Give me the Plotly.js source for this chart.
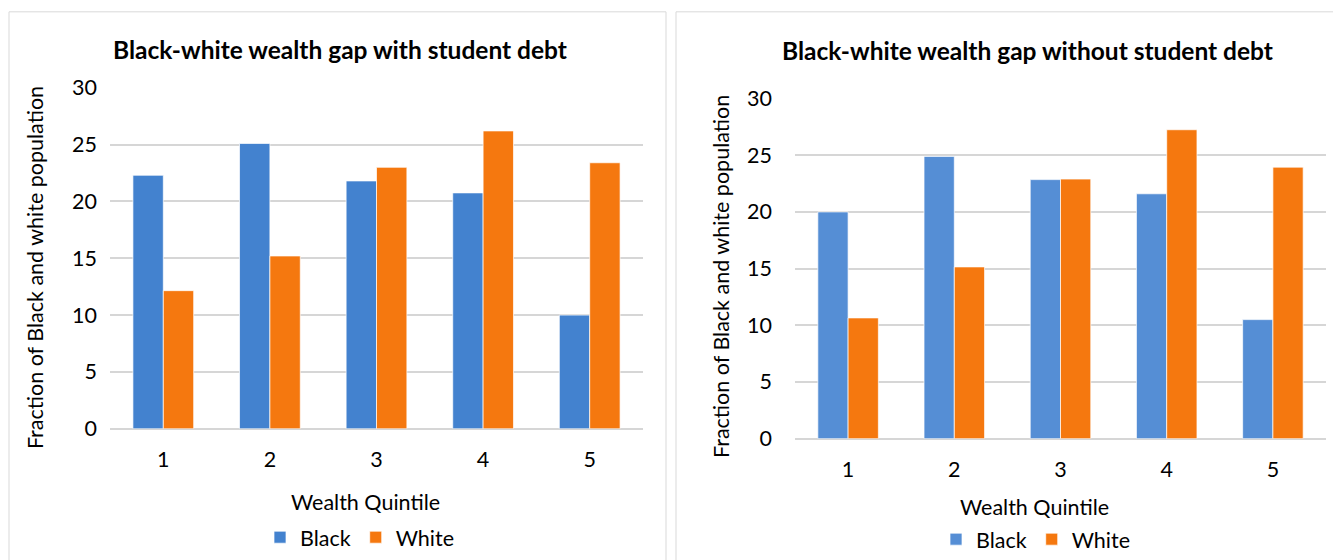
<!DOCTYPE html>
<html>
<head>
<meta charset="utf-8">
<script src="https://cdn.plot.ly/plotly-3.0.1.min.js"></script>
<style>
  html, body { margin: 0; padding: 0; background: #ffffff; }
  #chart { width: 1333px; height: 560px; }
</style>
</head>
<body>
<div id="chart"></div>
<script>
const quintiles = ['1', '2', '3', '4', '5'];
const blackWithDebt = [22.3, 25.1, 21.8, 20.75, 10.0];
const whiteWithDebt = [12.15, 15.2, 23.0, 26.2, 23.4];
const blackWithoutDebt = [20.0, 24.9, 22.85, 21.6, 10.5];
const whiteWithoutDebt = [10.65, 15.15, 22.9, 27.25, 23.95];
const seriesNames = ['Black', 'White'];
const titleLeft = 'Black-white wealth gap with student debt';
const titleRight = 'Black-white wealth gap without student debt';
const xTitle = 'Wealth Quintile';
const yTitle = 'Fraction of Black and white population';

const W = 1333, H = 560;
const px = v => v / W;
const py = v => 1 - v / H;

const FONT = 'Lato, "Open Sans", sans-serif';
const TXT = 21.5;
const orange = '#F5780F';
const outline = { color: 'rgba(255,255,255,0.7)', width: 1 };

const traces = [
  { type: 'bar', x: quintiles, y: blackWithDebt, name: seriesNames[0], xaxis: 'x', yaxis: 'y',
    marker: { color: '#4382CF', line: outline }, legend: 'legend', hoverinfo: 'x+y+name' },
  { type: 'bar', x: quintiles, y: whiteWithDebt, name: seriesNames[1], xaxis: 'x', yaxis: 'y',
    marker: { color: orange, line: outline }, legend: 'legend', hoverinfo: 'x+y+name' },
  { type: 'bar', x: quintiles, y: blackWithoutDebt, name: seriesNames[0], xaxis: 'x2', yaxis: 'y2',
    marker: { color: '#558ED5', line: outline }, legend: 'legend2', hoverinfo: 'x+y+name' },
  { type: 'bar', x: quintiles, y: whiteWithoutDebt, name: seriesNames[1], xaxis: 'x2', yaxis: 'y2',
    marker: { color: orange, line: outline }, legend: 'legend2', hoverinfo: 'x+y+name' }
];

const yAxisBase = {
  range: [0, 30], dtick: 5, tick0: 0,
  showgrid: true, gridcolor: '#D6D6D6', gridwidth: 2,
  zeroline: true, zerolinecolor: '#D6D6D6', zerolinewidth: 2,
  showline: false, ticks: '', ticklabelstandoff: 12,
  tickfont: { family: FONT, size: TXT, color: '#000' },
  fixedrange: true
};
const xAxisBase = {
  type: 'category', showgrid: false, zeroline: false, showline: false, ticks: '',
  ticklabelstandoff: 16,
  tickfont: { family: FONT, size: TXT, color: '#000' },
  fixedrange: true
};

const legendBase = {
  orientation: 'h', xanchor: 'center', yanchor: 'middle',
  font: { family: FONT, size: TXT, color: '#000' }, itemwidth: 30, tracegroupgap: 0,
  bgcolor: 'rgba(0,0,0,0)'
};

const layout = {
  width: W, height: H,
  margin: { l: 0, r: 0, t: 0, b: 0 },
  paper_bgcolor: '#ffffff', plot_bgcolor: '#ffffff',
  barmode: 'group', bargap: 0.43, bargroupgap: 0,
  font: { family: FONT, color: '#000' },
  showlegend: true,
  xaxis: Object.assign({}, xAxisBase, { domain: [px(110), px(643)], anchor: 'y' }),
  yaxis: Object.assign({}, yAxisBase, { domain: [py(435), py(89)], anchor: 'x' }),
  xaxis2: Object.assign({}, xAxisBase, { domain: [px(795), px(1326)], anchor: 'y2' }),
  yaxis2: Object.assign({}, yAxisBase, { domain: [py(445), py(100)], anchor: 'x2', ticklabelstandoff: 22 }),
  legend: Object.assign({}, legendBase, { x: px(360), y: py(545) }),
  legend2: Object.assign({}, legendBase, { x: px(1036), y: py(547) }),
  shapes: [
    { type: 'rect', xref: 'paper', yref: 'paper', x0: px(9), x1: px(666), y0: -0.05, y1: py(12),
      line: { color: '#D9D9D9', width: 1 }, fillcolor: 'rgba(0,0,0,0)', layer: 'below' },
    { type: 'rect', xref: 'paper', yref: 'paper', x0: px(676), x1: 1.05, y0: -0.05, y1: py(12),
      line: { color: '#D9D9D9', width: 1 }, fillcolor: 'rgba(0,0,0,0)', layer: 'below' }
  ],
  annotations: [
    { text: '<b>' + titleLeft + '</b>', xref: 'paper', yref: 'paper', x: px(340), y: py(50),
      xanchor: 'center', yanchor: 'middle', showarrow: false,
      font: { family: FONT, size: 24.5, color: '#000' } },
    { text: '<b>' + titleRight + '</b>', xref: 'paper', yref: 'paper', x: px(1027), y: py(51),
      xanchor: 'center', yanchor: 'middle', showarrow: false,
      font: { family: FONT, size: 24.5, color: '#000' } },
    { text: xTitle, xref: 'paper', yref: 'paper', x: px(365), y: py(509),
      xanchor: 'center', yanchor: 'middle', showarrow: false,
      font: { family: FONT, size: TXT, color: '#000' } },
    { text: xTitle, xref: 'paper', yref: 'paper', x: px(1034), y: py(514),
      xanchor: 'center', yanchor: 'middle', showarrow: false,
      font: { family: FONT, size: TXT, color: '#000' } },
    { text: yTitle, xref: 'paper', yref: 'paper', x: px(35), y: py(272), textangle: -90,
      xanchor: 'center', yanchor: 'middle', showarrow: false,
      font: { family: FONT, size: TXT, color: '#000' } },
    { text: yTitle, xref: 'paper', yref: 'paper', x: px(721), y: py(281), textangle: -90,
      xanchor: 'center', yanchor: 'middle', showarrow: false,
      font: { family: FONT, size: TXT, color: '#000' } }
  ]
};

Plotly.newPlot('chart', traces, layout, { staticPlot: true, displayModeBar: false });
</script>
</body>
</html>
